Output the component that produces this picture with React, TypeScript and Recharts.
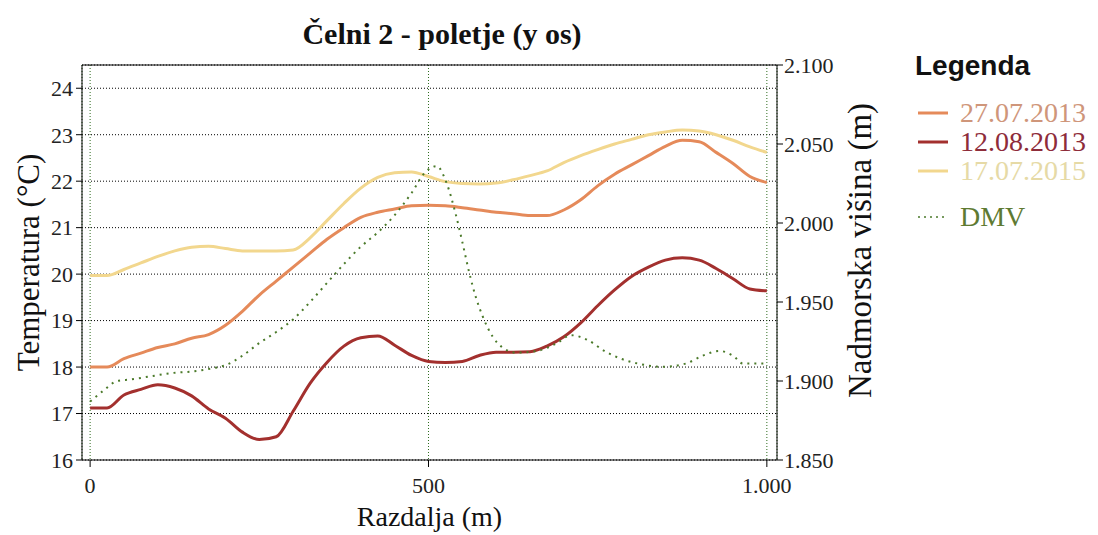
import { LineChart, Line, XAxis, YAxis, CartesianGrid, Legend, ReferenceLine } from 'recharts';

// temperature profiles, sampled every 25 m
const distances = [
  0, 25, 50, 75, 100, 125, 150, 175, 200, 225, 250, 275, 300, 325, 350, 375, 400, 425, 450, 475, 500,
  525, 550, 575, 600, 625, 650, 675, 700, 725, 750, 775, 800, 825, 850, 875, 900, 925, 950, 975, 1000,
];
const temp27072013 = [
  18.0, 18.0, 18.18, 18.3, 18.42, 18.5, 18.62, 18.7, 18.9, 19.2, 19.55, 19.85, 20.15, 20.45, 20.75, 21.0, 21.22, 21.33, 21.4, 21.47, 21.48,
  21.47, 21.43, 21.38, 21.33, 21.3, 21.26, 21.26, 21.38, 21.6, 21.9, 22.15, 22.35, 22.55, 22.75, 22.88, 22.85, 22.62, 22.38, 22.1, 21.97,
];
const temp12082013 = [
  17.12, 17.12, 17.4, 17.52, 17.62, 17.55, 17.38, 17.1, 16.9, 16.6, 16.44, 16.5, 17.05, 17.65, 18.1, 18.45, 18.63, 18.67, 18.47, 18.25, 18.12,
  18.1, 18.12, 18.25, 18.32, 18.32, 18.33, 18.45, 18.65, 18.95, 19.32, 19.66, 19.95, 20.15, 20.3, 20.35, 20.3, 20.12, 19.9, 19.68, 19.64,
];
const temp17072015 = [
  19.97, 19.97, 20.1, 20.24, 20.38, 20.5, 20.58, 20.6, 20.55, 20.5, 20.5, 20.5, 20.52, 20.78, 21.15, 21.52, 21.85, 22.08, 22.18, 22.2, 22.1,
  21.99, 21.95, 21.94, 21.96, 22.03, 22.12, 22.22, 22.4, 22.55, 22.68, 22.8, 22.9, 23.0, 23.06, 23.1, 23.08, 23.0, 22.88, 22.74, 22.62,
];

// terrain elevation (DMV)
const dmvDistances = [
  0, 20, 40, 60, 90, 120, 150, 180, 200, 225, 250, 275, 300, 325, 350, 375, 400, 425, 450, 475, 495, 512,
  527, 540, 550, 560, 570, 580, 595, 610, 630, 660, 690, 710, 735, 760, 785, 810, 845, 880, 905, 930, 950, 965, 1000,
];
const dmvElevations = [
  1887, 1894, 1900, 1901, 1903, 1905, 1906, 1908, 1910, 1916, 1924, 1931, 1939, 1950, 1962, 1974, 1985, 1994, 2005, 2019, 2032, 2036,
  2025, 2006, 1988, 1969, 1953, 1941, 1928, 1921, 1918, 1919, 1924, 1929, 1926, 1919, 1914, 1911, 1909, 1911, 1916, 1919, 1916, 1911, 1911,
];

const tempTicks = [16, 17, 18, 19, 20, 21, 22, 23, 24];
const elevTicks = [1850, 1900, 1950, 2000, 2050, 2100];
const distanceTicks = [0, 500, 1000];

const seriesNames = ['27.07.2013', '12.08.2013', '17.07.2015', 'DMV'];
const seriesColors = ['#E58A5A', '#A3302E', '#F2D78E', '#4B7A2A'];
const legendTextColors = ['#CF967A', '#8E2C3A', '#E6DAA6', '#5E7A32'];

const tempData = distances.map((d, i) => ({
  d,
  t1: temp27072013[i],
  t2: temp12082013[i],
  t3: temp17072015[i],
}));
const dmvData = dmvDistances.map((d, i) => ({ d, h: dmvElevations[i] }));

const SERIF = '"Liberation Serif", "Times New Roman", serif';
const tickStyle = { fontFamily: SERIF, fontSize: 22, fill: '#222' };

// 1000 -> "1.000" (Slovenian thousands separator)
const fmtThousands = (v: number) =>
  v >= 1000 ? `${Math.floor(v / 1000)}.${String(v % 1000).padStart(3, '0')}` : String(v);

const LegendBox = () => (
  <div style={{ fontFamily: SERIF }}>
    <div
      style={{
        fontFamily: '"Liberation Sans", Arial, sans-serif',
        fontWeight: 'bold',
        fontSize: 28,
        color: '#111',
        marginBottom: 16,
        marginLeft: 5,
      }}
    >
      Legenda
    </div>
    {seriesNames.map((name, i) => (
      <div
        key={name}
        style={{ display: 'flex', alignItems: 'center', height: 29, marginTop: name === 'DMV' ? 17 : 0 }}
      >
        <svg width={36} height={10} style={{ marginLeft: 5, marginRight: 9 }}>
          <line
            x1={3}
            x2={33}
            y1={5}
            y2={5}
            stroke={seriesColors[i]}
            strokeWidth={name === 'DMV' ? 1.5 : 3}
            strokeDasharray={name === 'DMV' ? '2 4' : undefined}
          />
        </svg>
        <span style={{ fontSize: 28, color: legendTextColors[i], lineHeight: '29px' }}>{name}</span>
      </div>
    ))}
  </div>
);

const verticalTitle = (text: string, dx: number, dy: number, size: number) => (props: any) => {
  const vb = props.viewBox;
  const cx = vb.x + dx;
  const cy = vb.y + vb.height / 2 + dy;
  return (
    <text x={cx} y={cy} transform={`rotate(-90 ${cx} ${cy})`} textAnchor="middle" dominantBaseline="central"
      style={{ fontFamily: SERIF, fontSize: size, fill: '#111' }}>
      {text}
    </text>
  );
};

export default function App() {
  return (
    <div style={{ position: 'absolute', left: 0, top: 0, width: 1098, height: 535, background: '#fff' }}>
      <div
        style={{
          position: 'absolute',
          left: 192,
          width: 500,
          top: 17,
          textAlign: 'center',
          fontFamily: SERIF,
          fontWeight: 'bold',
          fontSize: 30,
          color: '#111',
        }}
      >
        Čelni 2 - poletje (y os)
      </div>
      <LineChart width={1098} height={535} data={tempData} margin={{ top: 65, right: 241, bottom: 0, left: 0 }}>
        <CartesianGrid yAxisId="left" vertical={false} stroke="#000" strokeDasharray="1 2" />
        <CartesianGrid yAxisId="left" horizontal={false} stroke="#2E6B1E" strokeDasharray="1 2" />
        <XAxis
          dataKey="d"
          type="number"
          domain={[-12, 1015]}
          ticks={distanceTicks}
          allowDataOverflow
          height={75}
          tickSize={7}
          tickMargin={10}
          tickFormatter={fmtThousands}
          tick={tickStyle}
          axisLine={{ stroke: '#000' }}
          tickLine={{ stroke: '#000' }}
          label={{ value: 'Razdalja (m)', position: 'insideBottom', offset: 9, style: { fontFamily: SERIF, fontSize: 28, fill: '#111' } }}
        />
        <YAxis
          yAxisId="left"
          width={82}
          domain={[16, 24.5]}
          ticks={tempTicks}
          allowDataOverflow
          tickSize={6}
          tickMargin={3}
          tick={tickStyle}
          axisLine={{ stroke: '#000' }}
          tickLine={{ stroke: '#000' }}
          label={verticalTitle('Temperatura (°C)', 28, 0, 31)}
        />
        <YAxis
          yAxisId="right"
          orientation="right"
          width={80}
          domain={[1850, 2100]}
          ticks={elevTicks}
          allowDataOverflow
          tickSize={6}
          tickMargin={1}
          tickFormatter={fmtThousands}
          tick={tickStyle}
          axisLine={{ stroke: '#000' }}
          tickLine={{ stroke: '#000' }}
          label={verticalTitle('Nadmorska višina (m)', 83, -12, 33)}
        />
        <ReferenceLine yAxisId="left" y={24.5} stroke="#000" />
        <Line yAxisId="left" type="monotone" dataKey="t3" name={seriesNames[2]} stroke={seriesColors[2]} strokeWidth={3} dot={false} isAnimationActive={false} />
        <Line yAxisId="left" type="monotone" dataKey="t1" name={seriesNames[0]} stroke={seriesColors[0]} strokeWidth={3} dot={false} isAnimationActive={false} />
        <Line yAxisId="left" type="monotone" dataKey="t2" name={seriesNames[1]} stroke={seriesColors[1]} strokeWidth={3} dot={false} isAnimationActive={false} />
        <Line
          yAxisId="right"
          data={dmvData}
          type="monotone"
          dataKey="h"
          name={seriesNames[3]}
          stroke={seriesColors[3]}
          strokeWidth={2}
          strokeDasharray="2 5"
          dot={false}
          isAnimationActive={false}
        />
        <Legend
          layout="vertical"
          align="center"
          verticalAlign="middle"
          wrapperStyle={{ left: 910, top: 50, width: 188 }}
          content={() => <LegendBox />}
        />
      </LineChart>
    </div>
  );
}
